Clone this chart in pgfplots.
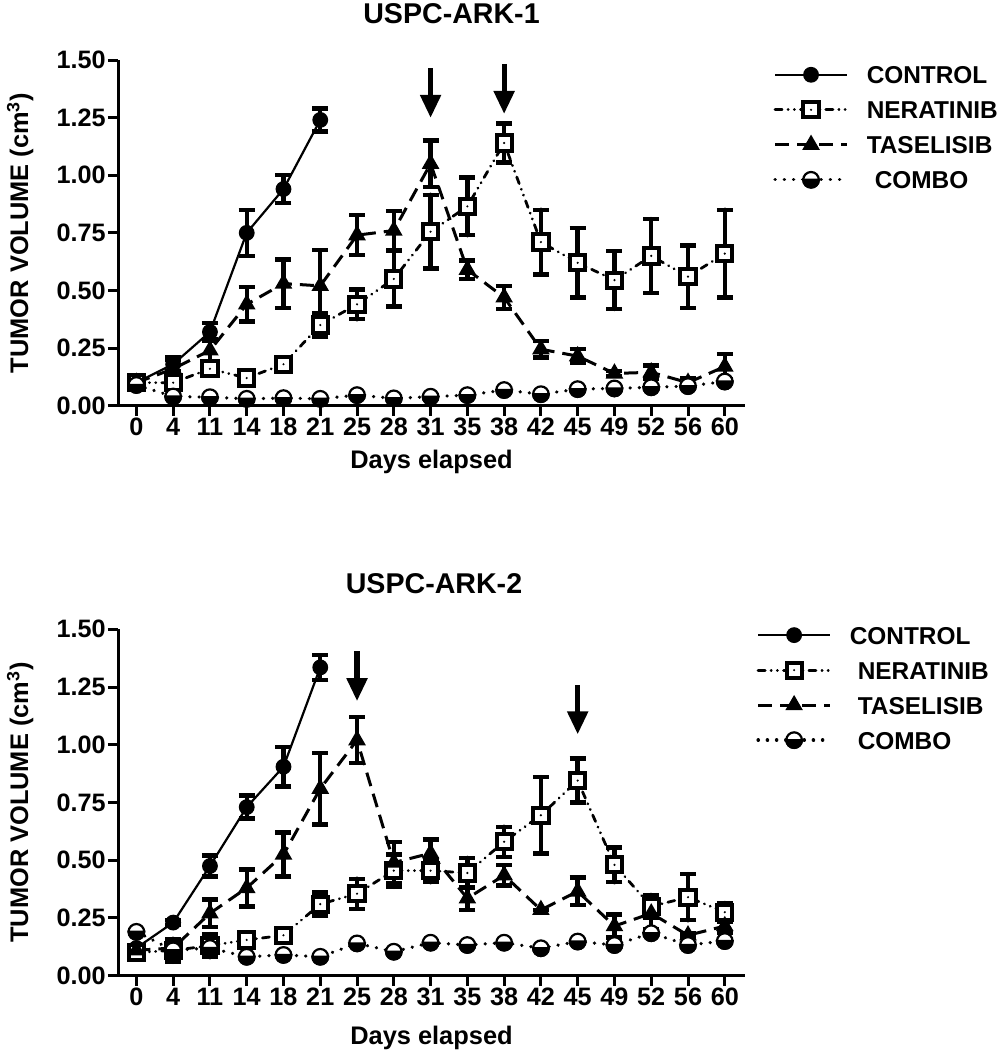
\documentclass[border=0pt]{standalone}
\usepackage{fontspec}
\setmainfont{Liberation Sans}
\usepackage{pgfplots}
\pgfplotsset{compat=1.18}
\usetikzlibrary{arrows.meta}

\pgfdeclareplotmark{halfbot}{%
  \pgfpathcircle{\pgfpointorigin}{\pgfplotmarksize}%
  \pgfsetfillcolor{white}%
  \pgfusepathqfillstroke
  \pgfpathmoveto{\pgfqpoint{-\pgfplotmarksize}{0pt}}%
  \pgfpatharc{180}{360}{\pgfplotmarksize}%
  \pgfpathclose
  \pgfsetfillcolor{black}%
  \pgfusepathqfillstroke
}
\pgfdeclareplotmark{sqdot}{%
  \pgfpathrectangle{\pgfpoint{-\pgfplotmarksize}{-\pgfplotmarksize}}{\pgfpoint{2\pgfplotmarksize}{2\pgfplotmarksize}}%
  \pgfsetfillcolor{white}%
  \pgfusepathqfillstroke
  \pgfpathcircle{\pgfpointorigin}{0.6pt}%
  \pgfsetfillcolor{black}%
  \pgfusepathqfill
}

\pgfplotstableread{
x y e
0 0.10 0.01
1 0.18 0.03
2 0.32 0.04
3 0.75 0.10
4 0.94 0.06
5 1.24 0.05
}\ctrlA
\pgfplotstableread{
x y e
0 0.10 0.01
1 0.10 0.03
2 0.16 0.02
3 0.12 0.03
4 0.18 0.025
5 0.35 0.05
6 0.44 0.065
7 0.55 0.12
8 0.755 0.16
9 0.865 0.125
10 1.14 0.085
11 0.71 0.14
12 0.62 0.15
13 0.545 0.125
14 0.65 0.16
15 0.56 0.135
16 0.66 0.19
}\nerA
\pgfplotstableread{
x y e
0 0.10 0.01
1 0.16 0.04
2 0.24 0.05
3 0.44 0.075
4 0.53 0.105
5 0.52 0.155
6 0.74 0.087
7 0.76 0.085
8 1.05 0.10
9 0.59 0.04
10 0.47 0.05
11 0.245 0.035
12 0.215 0.03
13 0.14 0.01
14 0.145 0.03
15 0.10 0.02
16 0.17 0.055
}\tasA
\pgfplotstableread{
x y
0 0.09
1 0.04
2 0.037
3 0.03
4 0.033
5 0.03
6 0.046
7 0.032
8 0.039
9 0.046
10 0.068
11 0.05
12 0.072
13 0.075
14 0.08
15 0.085
16 0.105
}\comA

\pgfplotstableread{
x y e
0 0.12 0.01
1 0.23 0.01
2 0.475 0.045
3 0.73 0.05
4 0.905 0.085
5 1.335 0.055
}\ctrlB
\pgfplotstableread{
x y e
0 0.10 0.02
1 0.11 0.05
2 0.13 0.05
3 0.155 0.02
4 0.175 0.02
5 0.31 0.05
6 0.355 0.065
7 0.455 0.07
8 0.455 0.05
9 0.445 0.065
10 0.58 0.065
11 0.695 0.165
12 0.845 0.095
13 0.48 0.075
14 0.30 0.05
15 0.34 0.10
16 0.275 0.04
}\nerB
\pgfplotstableread{
x y e
0 0.11 0.02
1 0.12 0.04
2 0.27 0.06
3 0.38 0.08
4 0.525 0.095
5 0.81 0.155
6 1.02 0.10
7 0.49 0.09
8 0.53 0.06
9 0.335 0.05
10 0.435 0.045
11 0.285 0.0
12 0.365 0.06
13 0.215 0.05
14 0.27 0.07
15 0.175 0.01
16 0.215 0.03
}\tasB
\pgfplotstableread{
x y
0 0.19
1 0.11
2 0.12
3 0.082
4 0.09
5 0.082
6 0.14
7 0.104
8 0.143
9 0.133
10 0.143
11 0.119
12 0.148
13 0.133
14 0.184
15 0.133
16 0.15
}\comB

\pgfplotsset{
  myaxis/.style={
    scale only axis, width=313.5pt,
    xmin=-0.5, xmax=16.55, ymin=0, ymax=1.5,
    clip=false,
    axis x line*=bottom, axis y line*=left,
    axis line style={line width=1.5pt, -},
    xtick={0,...,16},
    xticklabels={0,4,11,14,18,21,25,28,31,35,38,42,45,49,52,56,60},
    ytick={0,0.25,0.5,0.75,1,1.25,1.5},
    yticklabel style={/pgf/number format/fixed, /pgf/number format/fixed zerofill, /pgf/number format/precision=2, inner xsep=1pt},
    xticklabel style={yshift=2.5pt},
    /pgf/number format/assume math mode=true,
    tick align=outside, major tick length=5pt,
    every tick/.style={line width=1.5pt, black},
    tick label style={font=\fontsize{12.6}{14}\selectfont\bfseries},
    label style={font=\fontsize{12.7}{15}\selectfont\bfseries},
    xlabel={Days elapsed},
    ylabel={TUMOR VOLUME (cm\textsuperscript{3})},
    ylabel style={at={(axis description cs:-0.156,0.5)}, anchor=center},
    legend cell align=left,
    legend image code/.code={
      \draw[mark repeat=2, mark phase=2] plot coordinates {(0pt,0pt) (18pt,0pt) (36pt,0pt)};
    },
    legend style={draw=none, fill=none, font=\fontsize{12.2}{15}\selectfont\bfseries,
      row sep=8.5pt, column sep=9pt,
      nodes={inner sep=0pt, text height=9pt, text depth=0pt}},
  },
  eb/.style={error bars/.cd, y dir=both, y explicit,
    error bar style={line width=2.2pt, solid, black},
    error mark options={rotate=90, mark size=4pt, line width=2.2pt, solid, black}},
  sctrl/.style={black, solid, line width=1.1pt, mark=*, mark size=3.4pt, mark options={solid, fill=black}},
  sner/.style={black, line width=1.4pt, dash pattern=on 3.5pt off 3pt on 0.1pt off 3pt on 0.1pt off 3pt, line cap=round,
     mark=sqdot, mark size=3.8pt, mark options={solid, line width=2pt}},
  stas/.style={black, line width=1.5pt, dash pattern=on 7pt off 4pt,
     mark=triangle*, mark size=3.6pt, mark options={solid, fill=black}},
  scom/.style={black, line width=1.7pt, dash pattern=on 0.1pt off 4.5pt, line cap=round,
     mark=halfbot, mark size=3.9pt, mark options={solid, line width=1.1pt}},
}

\begin{document}
\begin{tikzpicture}
\useasboundingbox (0pt,0pt) rectangle (502pt,-525pt);

\node[anchor=base, font=\fontsize{14.3}{16}\selectfont\bfseries] at (225.75pt,-11.5pt) {USPC-ARK-1};
\node[anchor=base, font=\fontsize{14.3}{16}\selectfont\bfseries] at (217pt,-296.5pt) {USPC-ARK-2};

\begin{axis}[myaxis, at={(59pt,-202.85pt)}, anchor=south west, height=172.85pt,
  xlabel style={at={(axis description cs:0.5,0)}, anchor=base, yshift=-31.5pt},
  legend style={at={(1.035,0.996)}, anchor=north west}]
\addplot[sctrl, eb] table[x=x, y=y, y error=e] {\ctrlA};
\addlegendentry{CONTROL}
\addplot[sner, eb] table[x=x, y=y, y error=e] {\nerA};
\addlegendentry{NERATINIB}
\addplot[stas, eb] table[x=x, y=y, y error=e] {\tasA};
\addlegendentry{TASELISIB}
\addplot[scom] table[x=x, y=y] {\comA};
\addlegendentry{\hspace{4pt}COMBO}
\draw[line width=2.6pt, -{Triangle[width=10pt,length=11.5pt]}] (axis cs:8,1.464) -- (axis cs:8,1.249);
\draw[line width=2.6pt, -{Triangle[width=10pt,length=11.5pt]}] (axis cs:10,1.483) -- (axis cs:10,1.266);
\end{axis}

\begin{axis}[myaxis, at={(59pt,-487.85pt)}, anchor=south west, height=173.2pt,
  xlabel style={at={(axis description cs:0.5,0)}, anchor=base, yshift=-34.5pt},
  legend style={at={(1.008,1.0219)}, anchor=north west}]
\addplot[sctrl, eb] table[x=x, y=y, y error=e] {\ctrlB};
\addlegendentry{CONTROL}
\addplot[sner, eb] table[x=x, y=y, y error=e] {\nerB};
\addlegendentry{\hspace{4pt}NERATINIB}
\addplot[stas, eb] table[x=x, y=y, y error=e] {\tasB};
\addlegendentry{\hspace{4pt}TASELISIB}
\addplot[scom] table[x=x, y=y] {\comB};
\addlegendentry{\hspace{4pt}COMBO}
\draw[line width=2.6pt, -{Triangle[width=10pt,length=11.5pt]}] (axis cs:6,1.406) -- (axis cs:6,1.189);
\draw[line width=2.6pt, -{Triangle[width=10pt,length=11.5pt]}] (axis cs:12,1.257) -- (axis cs:12,1.045);
\end{axis}
\end{tikzpicture}
\end{document}
